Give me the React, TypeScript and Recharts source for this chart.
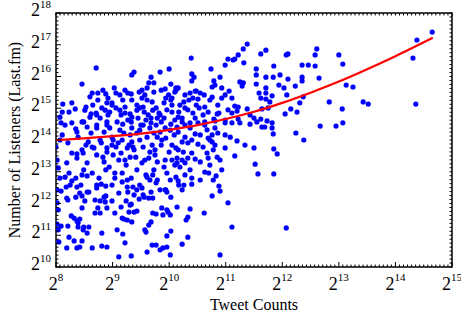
import React from 'react';
import { ScatterChart, Scatter, XAxis, YAxis, ReferenceArea } from 'recharts';

// axes are in log2 units: 8 means 2^8 tweets, 14 means 2^14 listeners
const xMajorTicks = [8, 9, 10, 11, 12, 13, 14, 15];
const yMajorTicks = [10, 11, 12, 13, 14, 15, 16, 17, 18];
const xMinorSteps = 14;
const yMinorSteps = 8;

// red fitted curve
const fitX = [8, 8.5, 9, 9.5, 10, 10.5, 11, 11.5, 12, 12.5, 13, 13.5, 14, 14.66];
const fitY = [14.0, 14.05, 14.12, 14.2, 14.32, 14.47, 14.66, 14.89, 15.17, 15.49, 15.84, 16.23, 16.64, 17.22];

// artists: [log2 tweet count, log2 listeners]
const artists: [number, number][] = [
  [14.65, 17.4], [14.38, 17.15], [14.31, 16.58], [14.36, 15.13], [12.61, 16.87], [12.58, 16.68], [13.0, 16.68],
  [13.07, 16.39], [12.35, 16.36], [12.46, 16.36], [12.58, 16.33], [12.35, 15.98], [12.35, 15.86], [12.65, 15.95],
  [13.13, 15.73], [13.25, 15.67], [12.37, 15.36], [12.31, 15.17], [12.83, 15.2], [13.43, 15.2], [13.52, 15.13],
  [13.06, 14.98], [12.67, 14.44], [12.95, 14.44], [13.07, 14.54], [12.38, 14.0],
  [11.38, 17.02], [11.31, 16.87], [11.22, 16.68], [11.16, 16.55], [11.04, 16.55], [11.13, 16.52], [11.32, 16.43],
  [10.99, 16.36], [10.39, 16.58], [10.74, 16.24], [10.0, 16.24], [9.84, 16.14], [10.44, 15.98], [10.9, 15.98],
  [10.79, 15.86], [10.81, 15.73], [11.25, 15.83], [11.31, 15.8], [11.29, 15.7], [11.62, 16.71], [11.71, 16.83],
  [12.07, 16.68], [12.1, 16.71], [11.85, 16.33], [11.54, 16.24], [11.54, 16.05], [11.54, 15.76], [11.71, 15.98],
  [11.84, 15.98], [11.96, 16.05], [12.1, 15.92], [10.4, 16.08], [10.4, 15.86], [10.03, 15.76], [9.93, 15.61],
  [10.12, 15.64], [10.05, 15.32], [10.48, 15.54], [10.55, 15.48], [10.76, 15.67], [10.93, 15.64], [11.06, 15.54],
  [10.93, 15.32], [11.11, 15.32], [10.99, 15.42], [11.16, 15.07], [11.22, 15.04], [11.11, 14.85], [11.2, 14.91],
  [11.38, 14.98], [11.59, 15.48], [11.71, 15.48], [11.71, 15.64], [11.62, 15.32], [11.71, 15.29], [11.82, 15.39],
  [11.78, 15.2], [11.94, 15.73], [12.03, 15.64], [12.08, 15.42], [12.23, 15.7], [12.15, 14.98], [12.26, 14.88],
  [12.05, 14.82], [11.64, 14.98], [11.75, 15.01], [11.5, 14.69], [11.43, 14.79], [11.62, 14.66], [11.73, 14.6],
  [11.69, 14.41], [11.43, 14.5], [11.82, 14.38], [12.24, 14.22], [11.85, 13.72], [11.91, 13.56], [11.5, 13.75],
  [11.34, 13.84], [11.2, 13.97], [11.16, 13.5], [11.22, 14.66],
  [10.19, 15.1], [10.26, 15.2], [10.37, 15.48], [10.35, 15.26], [10.46, 15.54], [10.62, 15.42], [10.42, 15.32],
  [10.51, 15.29], [10.28, 15.01], [10.17, 14.88], [10.16, 14.72], [10.23, 14.69], [10.33, 14.95], [10.42, 14.85],
  [10.53, 15.01], [10.63, 15.04], [10.69, 14.88], [10.6, 14.79], [10.1, 15.51], [10.16, 15.64], [10.88, 14.85],
  [10.85, 14.82], [10.79, 14.66], [10.76, 15.35],
  [10.23, 14.57], [10.37, 14.54], [10.51, 14.54], [10.63, 14.57], [10.81, 14.6], [10.99, 14.54], [11.11, 14.54],
  [11.25, 14.54], [11.55, 14.57], [11.64, 14.41], [11.82, 14.54], [11.84, 14.19], [11.52, 13.24], [11.57, 12.93],
  [11.85, 12.93], [10.93, 13.06], [10.63, 12.99], [10.7, 12.96], [10.83, 12.87], [10.78, 12.74], [10.4, 12.8],
  [10.4, 12.61], [10.16, 12.71], [10.17, 12.58], [10.23, 12.43], [10.26, 12.58], [10.88, 12.55], [10.9, 12.39],
  [10.76, 12.24], [10.37, 13.06], [10.19, 13.15], [10.14, 13.28], [10.16, 14.25], [10.28, 14.09], [10.46, 14.19],
  [10.67, 14.32], [10.76, 14.16], [10.86, 14.22], [10.99, 14.16], [11.08, 14.09], [10.69, 14.06], [10.51, 13.87],
  [10.6, 13.78], [10.81, 13.84], [10.99, 13.75], [10.23, 13.94], [10.33, 13.91], [10.16, 13.69], [10.25, 13.62],
  [10.4, 13.59], [10.67, 13.59], [10.78, 13.69], [10.14, 13.43], [10.23, 13.37], [10.33, 13.43], [10.46, 13.4],
  [10.55, 13.31], [10.69, 13.43], [10.85, 13.46], [10.28, 13.28],
  [11.04, 12.02], [10.14, 11.89], [10.37, 11.83], [10.62, 11.7], [10.33, 11.57], [10.3, 11.48], [11.11, 11.26],
  [12.07, 11.23], [10.33, 10.94], [10.23, 10.72], [10.9, 10.38],
  [10.02, 10.38], [10.03, 11.13], [9.96, 10.98], [9.89, 10.6], [9.84, 10.54], [9.87, 11.86], [9.96, 11.8],
  [9.98, 11.73], [9.89, 11.64], [10.02, 11.64], [9.93, 12.43], [9.96, 12.36],
  [8.19, 12.17], [8.21, 12.11], [8.35, 12.2], [8.51, 12.08], [8.69, 12.11], [8.78, 12.08], [8.88, 12.24],
  [8.99, 12.08], [9.24, 12.08], [9.33, 11.98], [9.47, 12.14], [9.56, 12.2], [9.64, 12.17], [9.71, 12.17],
  [8.02, 12.02], [8.04, 11.8], [8.27, 11.61], [8.32, 11.54], [8.37, 11.45], [8.42, 11.51], [8.46, 11.86],
  [8.69, 11.7], [8.78, 11.7], [8.74, 11.86], [8.9, 11.86], [9.04, 11.7], [9.15, 11.89], [9.2, 11.51],
  [9.26, 11.48], [9.29, 11.73], [9.38, 11.73], [9.31, 11.95], [9.43, 11.76], [9.34, 11.42], [9.17, 11.54],
  [9.68, 11.42], [9.64, 11.32], [9.71, 11.7], [9.77, 11.67], [8.02, 11.35], [8.09, 11.29], [8.21, 11.29],
  [8.39, 11.26], [8.49, 11.26], [8.58, 11.26], [8.39, 11.39], [8.23, 10.94], [8.05, 10.79], [8.32, 10.82],
  [8.46, 10.82], [8.55, 11.07], [8.19, 10.6], [8.37, 10.6], [8.42, 10.63], [8.64, 10.6], [8.81, 11.07],
  [8.81, 10.66], [8.9, 10.63], [9.08, 11.17], [9.18, 11.04], [9.22, 10.76], [9.11, 10.32], [9.33, 10.35],
  [9.59, 11.1], [9.61, 10.47], [9.7, 10.69], [9.96, 10.63],
  [8.04, 11.17], [8.48, 11.17], [8.04, 13.12], [8.07, 12.8], [8.16, 12.83], [8.09, 12.39], [8.25, 12.58],
  [8.37, 12.52], [8.42, 12.33], [8.46, 12.24], [8.55, 12.36], [8.28, 12.71], [8.35, 12.8], [8.46, 12.9],
  [8.55, 12.87], [8.64, 12.96], [8.72, 12.58], [8.8, 12.61], [8.88, 12.55], [8.87, 12.05], [9.04, 12.96],
  [9.04, 12.8], [9.17, 12.68], [9.26, 12.74], [9.27, 12.36], [9.61, 12.83], [9.66, 12.74], [9.71, 12.9],
  [9.36, 12.52], [9.43, 12.43], [9.54, 12.27], [9.57, 11.17], [9.77, 10.69],
  [8.07, 14.0], [8.21, 13.91], [8.39, 14.09], [8.57, 13.94], [8.28, 13.59], [8.37, 13.56], [8.48, 13.59],
  [8.64, 13.78], [8.78, 14.0], [8.9, 13.75], [8.72, 13.53], [8.83, 13.46], [9.01, 14.0], [9.1, 13.91],
  [9.26, 13.75], [9.36, 13.78], [9.01, 13.53], [9.31, 13.46], [9.48, 14.0], [9.54, 13.78], [9.66, 13.62],
  [9.75, 13.69], [9.79, 14.09], [9.43, 14.22],
  [8.51, 14.94], [8.6, 14.72], [8.46, 14.57], [8.72, 14.79], [8.87, 14.94], [8.99, 15.17], [9.13, 14.94],
  [9.22, 14.85], [9.08, 14.57], [9.18, 14.5], [8.9, 14.47], [8.72, 14.38], [8.55, 14.41], [8.35, 14.35],
  [8.16, 14.47], [9.34, 14.72], [9.43, 14.94], [9.54, 15.04], [9.63, 14.79], [9.71, 14.94], [9.79, 14.69],
  [9.54, 14.47], [9.66, 14.38], [9.34, 14.38], [8.07, 14.72], [8.11, 14.88],
  [8.71, 16.27], [9.34, 16.05], [9.38, 16.14], [9.68, 15.98], [8.46, 15.76], [8.12, 15.13], [8.28, 15.17],
  [8.23, 14.88], [8.34, 14.98], [8.53, 15.04], [8.6, 15.36], [8.64, 15.48], [8.74, 15.48], [8.83, 15.57],
  [8.88, 15.45], [8.65, 15.1], [8.62, 14.82], [8.71, 14.85], [8.81, 15.01], [9.03, 15.64], [9.06, 15.48],
  [8.9, 15.17], [8.99, 15.1], [9.06, 15.01], [8.95, 14.88], [9.22, 15.57], [9.27, 15.48], [9.33, 15.45],
  [9.18, 15.26], [9.22, 15.04], [9.15, 14.79], [9.31, 14.82], [9.47, 15.51], [9.52, 15.57], [9.61, 15.64],
  [9.73, 15.51], [9.64, 15.8], [9.73, 15.8], [9.52, 15.32], [9.61, 15.26], [9.7, 15.2], [9.43, 15.1],
  [9.48, 15.01], [9.56, 14.88], [9.77, 15.01], [9.86, 15.57], [9.94, 15.32], [9.99, 15.42], [10.12, 15.57],
  [10.03, 15.26], [9.91, 15.17], [9.82, 14.85], [9.96, 14.95], [10.05, 14.88], [9.91, 14.69], [9.68, 14.69],
  [8.09, 14.54], [8.28, 14.54], [8.49, 14.57], [8.72, 14.47], [8.9, 14.57], [9.33, 14.57], [9.5, 14.47],
  [9.68, 14.54], [9.86, 14.57], [10.03, 14.5], [10.14, 14.41], [8.11, 14.16], [8.37, 14.25], [8.62, 14.22],
  [8.85, 14.25], [8.99, 14.09], [9.2, 14.22], [9.61, 14.09], [9.73, 14.22], [9.94, 14.06], [10.09, 14.16],
  [8.0, 13.78], [8.46, 13.69], [8.53, 13.84], [8.67, 13.75], [8.8, 13.91], [8.9, 13.62], [9.06, 13.78],
  [9.15, 13.59], [9.29, 13.84], [9.38, 13.69], [9.86, 13.84], [10.0, 13.62], [10.12, 13.75], [8.02, 13.37],
  [8.19, 13.28], [8.37, 13.43], [8.55, 13.28], [8.85, 13.31], [8.94, 13.15], [9.11, 13.37], [9.24, 13.21],
  [9.41, 13.46], [9.52, 13.28], [9.64, 13.43], [9.79, 13.31], [9.91, 13.15], [10.05, 13.37], [8.23, 12.96],
  [8.49, 13.06], [8.76, 12.8], [8.88, 13.06], [9.17, 12.96], [9.33, 12.8], [9.43, 13.06], [9.59, 12.9],
  [9.73, 13.06], [9.79, 12.74], [9.96, 12.96], [10.12, 12.83], [8.02, 12.43], [8.18, 12.52], [8.44, 12.58],
  [8.58, 12.36], [8.72, 12.49], [8.85, 12.2], [8.99, 12.58], [9.11, 12.33], [9.26, 12.52], [9.38, 12.27],
  [9.52, 12.49], [9.68, 12.36], [9.77, 12.65], [9.94, 12.43], [10.03, 12.2],
  [8.78, 14.69], [8.92, 14.79], [9.27, 14.63], [9.45, 14.69], [9.59, 14.63], [9.77, 14.47], [9.93, 14.38],
  [10.1, 14.63], [10.28, 14.47], [10.46, 14.69], [10.63, 14.47], [10.81, 14.38], [10.99, 14.63], [8.95, 14.38],
  [9.13, 14.31], [9.31, 14.16], [9.48, 14.31], [9.84, 14.25], [10.02, 14.31], [10.37, 14.38], [10.55, 14.16],
  [10.72, 14.0], [8.99, 13.84], [9.17, 14.0], [9.34, 13.94], [9.7, 13.84], [9.87, 14.0], [10.05, 13.84],
  [10.4, 14.0], [10.76, 13.94], [9.22, 13.37], [9.57, 13.37], [9.75, 13.53], [9.93, 13.37], [10.1, 13.21],
  [10.72, 13.21], [10.9, 13.37], [9.48, 12.58], [9.84, 12.43], [10.02, 12.74], [10.28, 12.9], [10.55, 12.74],
  [8.74, 15.26], [8.92, 15.32], [9.13, 15.42], [9.34, 15.26], [9.57, 15.42], [10.05, 15.1], [10.28, 15.42],
  [10.48, 15.1], [10.72, 15.26], [10.86, 15.1], [11.04, 14.95], [9.84, 14.79],
];

const WIDTH = 461;
const HEIGHT = 320;
const MARGIN = { top: 13, right: 9, bottom: 0, left: 0 };
const PLOT_TOP = MARGIN.top;
const PLOT_RIGHT = WIDTH - MARGIN.right;
const FONT = '"Liberation Serif", "Times New Roman", serif';

function withMinor(major: number[], steps: number) {
  const out: number[] = [];
  for (let i = 0; i < major.length - 1; i++) {
    for (let k = 0; k < steps; k++) out.push(major[i] + k / steps);
  }
  out.push(major[major.length - 1]);
  return out;
}

const xTicks = withMinor(xMajorTicks, xMinorSteps);
const yTicks = withMinor(yMajorTicks, yMinorSteps);
const isMajor = (v: number) => Math.abs(v - Math.round(v)) < 1e-6;

const scatterData = artists.map(([x, y]) => ({ x, y }));
const fitData = fitX.map((x, i) => ({ x, y: fitY[i] }));

function XTick(props: any) {
  const { x, y, payload } = props;
  const v = payload.value;
  const major = isMajor(v);
  return (
    <g>
      <line x1={x} y1={y} x2={x} y2={y - (major ? 5 : 2.5)} stroke="#000" />
      <line x1={x} y1={PLOT_TOP} x2={x} y2={PLOT_TOP + 2.5} stroke="#000" />
      {major && (
        <text x={x} y={y + 23} textAnchor="middle" fontFamily={FONT} fontSize={18} fill="#000">
          2<tspan dy={-9} fontSize={11}>{Math.round(v)}</tspan>
        </text>
      )}
    </g>
  );
}

function YTick(props: any) {
  const { x, y, payload } = props;
  const v = payload.value;
  const major = isMajor(v);
  return (
    <g>
      <line x1={x} y1={y} x2={x + (major ? 5 : 2.5)} y2={y} stroke="#000" />
      <line x1={PLOT_RIGHT} y1={y} x2={PLOT_RIGHT - 2.5} y2={y} stroke="#000" />
      {major && (
        <text x={x - 5} y={y + 3} textAnchor="end" fontFamily={FONT} fontSize={18} fill="#000">
          2<tspan dy={-8} fontSize={11}>{Math.round(v)}</tspan>
        </text>
      )}
    </g>
  );
}

export default function App() {
  return (
    <div style={{ position: 'absolute', left: 0, top: 0, width: WIDTH, height: HEIGHT, background: '#fff' }}>
      <ScatterChart width={WIDTH} height={HEIGHT} margin={MARGIN}>
        <XAxis
          type="number"
          dataKey="x"
          domain={[8, 15]}
          ticks={xTicks}
          interval={0}
          allowDataOverflow
          tickLine={false}
          axisLine={false}
          tickSize={0}
          tickMargin={0}
          height={53}
          tick={(p: any) => <XTick {...p} />}
          label={() => (
            <text x={(56 + PLOT_RIGHT) / 2} y={310} textAnchor="middle" fontFamily={FONT} fontSize={16} fill="#000">
              Tweet Counts
            </text>
          )}
        />
        <YAxis
          type="number"
          dataKey="y"
          domain={[10, 18]}
          ticks={yTicks}
          interval={0}
          allowDataOverflow
          tickLine={false}
          axisLine={false}
          tickSize={0}
          tickMargin={0}
          width={56}
          tick={(p: any) => <YTick {...p} />}
          label={() => (
            <text
              x={20}
              y={140}
              transform="rotate(-90, 20, 140)"
              textAnchor="middle"
              fontFamily={FONT}
              fontSize={16}
              fill="#000"
            >
              Number of Listeners (Last.fm)
            </text>
          )}
        />
        <ReferenceArea x1={8} x2={15} y1={10} y2={18} fill="none" stroke="#000" strokeWidth={1.5} ifOverflow="visible" />
        <Scatter
          data={scatterData}
          isAnimationActive={false}
          shape={(p: any) => <circle cx={p.cx} cy={p.cy} r={2.6} fill="#0000ff" />}
        />
        <Scatter
          data={fitData}
          isAnimationActive={false}
          line={{ stroke: '#ff0000', strokeWidth: 2.2 }}
          lineJointType="monotoneX"
          shape={() => <g />}
        />
      </ScatterChart>
    </div>
  );
}
